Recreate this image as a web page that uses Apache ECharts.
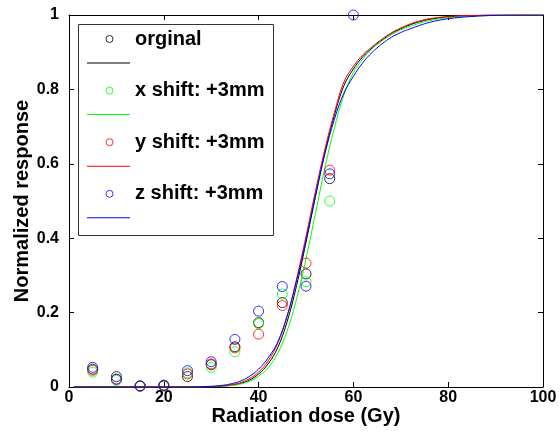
<!DOCTYPE html>
<html>
<head>
<meta charset="utf-8">
<script src="https://cdn.jsdelivr.net/npm/echarts@6/dist/echarts.min.js"></script>
<style>html,body{margin:0;padding:0;background:#fff}#c{width:560px;height:440px}</style>
</head>
<body>
<div id="c"></div>
<script>
// Measured doses (Gy)
var doses = [5, 10, 15, 20, 25, 30, 35, 40, 45, 50, 55, 60];
var origPts = [0.048, 0.028, 0.002, 0.003, 0.028, 0.060, 0.108, 0.173, 0.227, 0.304, 0.560, null];
var xShiftPts = [0.040, 0.018, 0.002, 0.005, 0.038, 0.053, 0.095, 0.170, 0.250, 0.283, 0.500, null];
var yShiftPts = [0.045, 0.021, 0.003, 0.003, 0.035, 0.062, 0.105, 0.142, 0.219, 0.333, 0.583, null];
var zShiftPts = [0.053, 0.021, 0.003, 0.005, 0.044, 0.068, 0.128, 0.204, 0.270, 0.271, 0.573, 1.0];

// Fitted curves
var curveX = [1, 5, 10, 15, 20, 25, 30, 32, 34, 36, 38, 40, 42, 44, 46, 48, 50, 52, 54, 56, 58, 60, 62, 64, 66, 68, 70, 72, 74, 76, 80, 85, 90, 95, 100];
var origFit = [0, 0, 0, 0, 0, 0, 0.001, 0.002, 0.0045, 0.009, 0.018, 0.035, 0.062, 0.105, 0.175, 0.272, 0.389, 0.512, 0.630, 0.731, 0.810, 0.855, 0.888, 0.912, 0.932, 0.950, 0.963, 0.974, 0.982, 0.988, 0.995, 0.998, 1.0, 1.0, 1.0];
var xShiftFit = [0, 0, 0, 0, 0, 0, 0.0007, 0.0016, 0.0035, 0.0074, 0.015, 0.029, 0.052, 0.090, 0.150, 0.236, 0.345, 0.467, 0.590, 0.697, 0.785, 0.845, 0.882, 0.910, 0.930, 0.947, 0.960, 0.970, 0.978, 0.985, 0.993, 0.997, 0.999, 1.0, 1.0];
var yShiftFit = [0, 0, 0, 0, 0, 0, 0.0012, 0.0026, 0.0055, 0.011, 0.022, 0.040, 0.070, 0.117, 0.190, 0.290, 0.405, 0.527, 0.640, 0.738, 0.820, 0.862, 0.893, 0.915, 0.935, 0.952, 0.965, 0.976, 0.984, 0.990, 0.996, 0.999, 1.0, 1.0, 1.0];
var zShiftFit = [0, 0, 0, 0, 0, 0, 0.002, 0.004, 0.008, 0.015, 0.028, 0.048, 0.078, 0.120, 0.190, 0.285, 0.395, 0.515, 0.628, 0.720, 0.790, 0.835, 0.872, 0.900, 0.922, 0.940, 0.953, 0.963, 0.972, 0.980, 0.990, 0.996, 0.999, 1.0, 1.0];

var xTicks = [0, 20, 40, 60, 80, 100];
var yTickLabels = ['0', '0.2', '0.4', '0.6', '0.8', '1'];
var names = ['orginal', 'x shift: +3mm', 'y shift: +3mm', 'z shift: +3mm'];
var colors = ['#000000', '#00ff00', '#ff0000', '#0000ff'];

function zip(xs, ys) { return xs.map(function (x, i) { return [x, ys[i]]; }).filter(function (p) { return p[1] !== null; }); }

var ptsSets = [origPts, xShiftPts, yShiftPts, zShiftPts];
var fitSets = [origFit, xShiftFit, yShiftFit, zShiftFit];
var FONT = '"Liberation Sans", Arial, sans-serif';

var series = [];
for (var i = 0; i < 4; i++) {
  series.push({
    name: names[i], type: 'scatter', data: zip(doses, ptsSets[i]), z: 3 + 2 * i,
    symbol: 'circle', symbolSize: 10,
    itemStyle: { color: 'transparent', borderColor: colors[i], borderWidth: 1 },
    emphasis: { disabled: true }, silent: true
  });
  series.push({
    name: names[i] + ' fit', type: 'line', data: zip(curveX, fitSets[i]), z: 4 + 2 * i,
    showSymbol: false, smooth: 0.4,
    lineStyle: { color: colors[i], width: 1 }, itemStyle: { color: colors[i] },
    emphasis: { disabled: true }, silent: true
  });
}

var axisCommon = {
  axisLine: { show: true, onZero: false, lineStyle: { color: '#000', width: 1 } },
  axisTick: { show: true, inside: true, length: 5, lineStyle: { color: '#000' } },
  splitLine: { show: false }
};

var chart = echarts.init(document.getElementById('c'), null, { renderer: 'canvas' });
chart.setOption({
  animation: false,
  backgroundColor: '#fff',
  grid: { left: 69, right: 17, top: 15, bottom: 53, containLabel: false },
  xAxis: [
    Object.assign({}, axisCommon, {
      type: 'value', min: xTicks[0], max: xTicks[xTicks.length - 1], interval: xTicks[1] - xTicks[0],
      position: 'bottom',
      axisLabel: { show: true, margin: 3, color: '#000', fontFamily: FONT, fontWeight: 'bold', fontSize: 16 },
      name: 'Radiation dose (Gy)', nameLocation: 'middle', nameGap: 19, nameMoveOverlap: false,
      nameTextStyle: { color: '#000', fontFamily: FONT, fontWeight: 'bold', fontSize: 20, verticalAlign: 'top' }
    }),
    Object.assign({}, axisCommon, {
      type: 'value', min: xTicks[0], max: xTicks[xTicks.length - 1], interval: xTicks[1] - xTicks[0],
      position: 'top', axisLabel: { show: false }
    })
  ],
  yAxis: [
    Object.assign({}, axisCommon, {
      type: 'value', min: 0, max: 1, interval: 0.2, position: 'left',
      axisLabel: { show: true, margin: 10, color: '#000', fontFamily: FONT, fontWeight: 'bold', fontSize: 16,
        formatter: function (v) { return yTickLabels[Math.round(v * 5)]; } },
      name: 'Normalized response', nameLocation: 'middle', nameGap: 37, nameMoveOverlap: false,
      nameTextStyle: { color: '#000', fontFamily: FONT, fontWeight: 'bold', fontSize: 20 }
    }),
    Object.assign({}, axisCommon, {
      type: 'value', min: 0, max: 1, interval: 0.2, position: 'right', axisLabel: { show: false }
    })
  ],
  legend: [
    {
      data: names.map(function (n, i) {
        return { name: n, icon: 'circle', itemStyle: { color: 'transparent', borderColor: colors[i], borderWidth: 1 } };
      }),
      orient: 'vertical', left: 105.5, top: 29, padding: 0,
      itemWidth: 7, itemHeight: 7, itemGap: 31.6, symbolKeepAspect: true,
      selectedMode: false,
      textStyle: { color: '#000', fontFamily: FONT, fontWeight: 'bold', fontSize: 20, lineHeight: 20, padding: [0, 0, 0, 17] }
    },
    {
      data: names.map(function (n, i) {
        return { name: n + ' fit', icon: 'rect', itemStyle: { color: colors[i], borderWidth: 0 } };
      }),
      orient: 'vertical', left: 87, top: 53, padding: 0,
      itemWidth: 43, itemHeight: 1, itemGap: 31.6, symbolKeepAspect: false,
      selectedMode: false, formatter: function () { return ' '; },
      textStyle: { color: '#000', fontFamily: FONT, fontSize: 18, lineHeight: 20 }
    }
  ],
  graphic: [{
    type: 'rect', left: 78, top: 24, z: 0,
    shape: { width: 195, height: 211 },
    style: { fill: '#fff', stroke: '#333', lineWidth: 1 }
  }],
  series: series
});
</script>
</body>
</html>
